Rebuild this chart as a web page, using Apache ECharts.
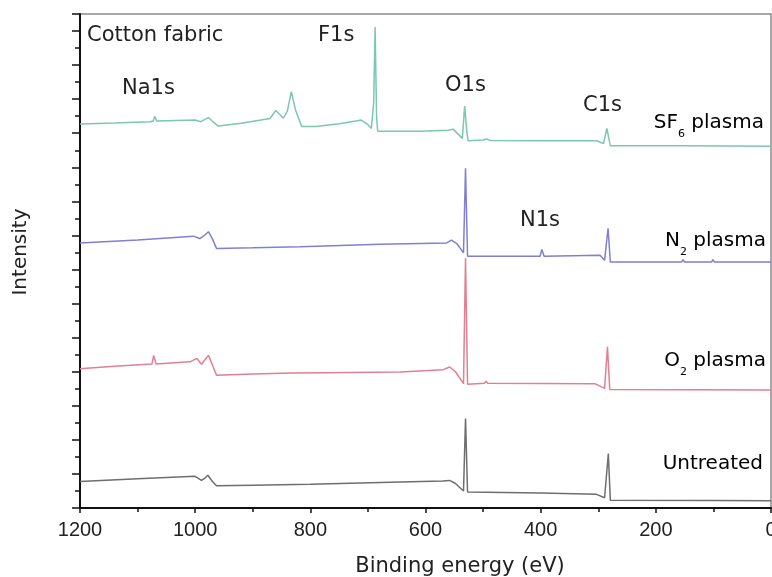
<!DOCTYPE html>
<html>
<head>
<meta charset="utf-8">
<script src="https://cdn.jsdelivr.net/npm/echarts@6/dist/echarts.min.js"></script>
<style>html,body{margin:0;padding:0;background:#fff;}#c{width:772px;height:577px;}</style>
</head>
<body>
<div id="c"></div>
<script>
// Binding energy (eV) vs intensity (arbitrary, offset)
var sf6Plasma = [[1200,11.27],[1140,11.30],[1078,11.34],[1073,11.36],[1070,11.50],[1067,11.36],[1000,11.39],[990,11.34],[984,11.40],[977,11.46],[970,11.35],[960,11.21],[920,11.29],[870,11.43],[865,11.55],[860,11.67],[853,11.55],[847,11.44],[840,11.65],[833,12.22],[826,11.70],[815,11.20],[790,11.20],[750,11.28],[721,11.36],[712,11.39],[700,11.25],[694,11.14],[690,11.9],[687.5,14.12],[685,11.5],[683,11.06],[610,11.06],[560,11.09],[552,11.12],[536,10.85],[532,11.80],[528,11.0],[526,10.78],[500,10.80],[494,10.83],[488,10.79],[400,10.78],[303,10.78],[291,10.70],[285,11.14],[281,10.8],[279,10.63],[150,10.63],[0,10.62]];
var n2Plasma = [[1200,7.78],[1100,7.87],[1003,7.98],[992,7.91],[984,8.00],[977,8.11],[970,7.90],[963,7.62],[900,7.64],[818,7.67],[679,7.74],[563,7.78],[555,7.86],[545,7.75],[534,7.49],[530.5,9.97],[527,7.39],[437,7.39],[401,7.39],[398,7.59],[394,7.39],[297,7.42],[289,7.27],[283,8.21],[279,7.22],[155,7.22],[153,7.29],[150,7.22],[103,7.22],[101,7.29],[98,7.22],[0,7.22]];
var o2Plasma = [[1200,4.09],[1140,4.16],[1075,4.23],[1072,4.48],[1068,4.23],[1009,4.29],[997,4.39],[989,4.22],[983,4.35],[977,4.48],[970,4.2],[963,3.90],[900,3.93],[832,3.96],[829,3.99],[826,3.96],[644,3.99],[569,4.06],[558,4.14],[548,4.0],[534,3.65],[530.5,7.33],[527,3.63],[498,3.66],[495,3.72],[492,3.66],[306,3.65],[289,3.51],[284,4.73],[280,3.48],[0,3.46]];
var untreated = [[1200,0.78],[1100,0.86],[1000,0.93],[989,0.81],[983,0.88],[978,0.96],[970,0.78],[963,0.65],[900,0.67],[800,0.70],[644,0.76],[570,0.79],[558,0.81],[548,0.72],[534,0.50],[530.5,2.63],[527,0.47],[400,0.44],[303,0.40],[289,0.30],[282.5,1.60],[279,0.23],[100,0.22],[0,0.21]];
var xTickLabels = ['0','200','400','600','800','1000','1200'];

var FONT = '"DejaVu Sans", sans-serif';
var chart = echarts.init(document.getElementById('c'));

function lineSeries(name, data, color) {
  return {
    name: name, type: 'line', data: data, showSymbol: false, symbol: 'none',
    lineStyle: { color: color, width: 1.5 }, animation: false, z: 3
  };
}

function txt(text, x, y, align, size, color) {
  return {
    type: 'text', x: x, y: y, z: 10,
    style: {
      text: text, fill: color || '#222', font: (size || 21) + 'px ' + FONT,
      textAlign: align || 'left', align: align || 'left',
      textVerticalAlign: 'middle', verticalAlign: 'middle'
    }
  };
}

function subTxt(pre, sub, post, xRight, yCap) {
  var t = sub ? '{a|' + pre + '}{s|' + sub + '}{a|' + post + '}' : '{a|' + pre + post + '}';
  return {
    type: 'text', x: xRight, y: yCap - 11, z: 10,
    style: {
      text: t, textAlign: 'right', align: 'right',
      textVerticalAlign: 'top', verticalAlign: 'top',
      rich: {
        a: { fontSize: 20, fontFamily: FONT, color: '#3a3a3a', lineHeight: 22, verticalAlign: 'top' },
        s: { fontSize: 11, fontFamily: FONT, color: '#3a3a3a', lineHeight: 11, padding: [16, 0, 0, 0], verticalAlign: 'top' }
      }
    }
  };
}

var option = {
  backgroundColor: '#fff',
  animation: false,
  grid: { left: 80, right: 1, top: 14, bottom: 69, containLabel: false, outerBoundsMode: 'none', show: true, borderColor: '#8a8a8a', borderWidth: 1.5, backgroundColor: 'transparent' },
  xAxis: {
    type: 'value', inverse: true, min: 0, max: 1200, interval: 200, position: 'bottom',
    axisLine: { show: true, onZero: false, lineStyle: { color: '#111', width: 2 } },
    axisTick: { show: true, length: 5, lineStyle: { color: '#111', width: 1.5 } },
    minorTick: { show: true, splitNumber: 2, length: 4, lineStyle: { color: '#111', width: 1.5 } },
    splitLine: { show: false }, minorSplitLine: { show: false },
    axisLabel: {
      fontSize: 20, fontFamily: '"Liberation Sans", Arial, sans-serif', color: '#222', margin: 12,
      formatter: function (v) { var s = String(v); return xTickLabels.indexOf(s) >= 0 ? s : ''; }
    }
  },
  yAxis: {
    type: 'value', min: 0, max: 14.5, interval: 1, position: 'left',
    axisLine: { show: true, onZero: false, lineStyle: { color: '#111', width: 2 } },
    axisTick: { show: true, length: 8, lineStyle: { color: '#111', width: 1.5 } },
    minorTick: { show: true, splitNumber: 2, length: 5, lineStyle: { color: '#111', width: 1.5 } },
    splitLine: { show: false }, minorSplitLine: { show: false },
    axisLabel: { show: false }
  },
  series: [
    lineSeries('SF6 plasma', sf6Plasma, '#7cc6b2'),
    lineSeries('N2 plasma', n2Plasma, '#7f7fd4'),
    lineSeries('O2 plasma', o2Plasma, '#e27f90'),
    lineSeries('Untreated', untreated, '#6e6e6e')
  ],
  graphic: [
    txt('Cotton fabric', 87, 36),
    txt('F1s', 318, 36),
    txt('Na1s', 122, 89),
    txt('O1s', 445, 86),
    txt('C1s', 583, 106),
    txt('N1s', 520, 221),
    subTxt('SF', '6', ' plasma', 764, 124),
    subTxt('N', '2', ' plasma', 766, 242),
    subTxt('O', '2', ' plasma', 766, 362),
    subTxt('Untreated', '', '', 763, 465),
    {
      type: 'text', x: 21, y: 252, rotation: Math.PI / 2, z: 10,
      style: { text: 'Intensity', fill: '#222', font: '20px ' + FONT, textAlign: 'center', align: 'center', textVerticalAlign: 'middle', verticalAlign: 'middle' }
    },
    txt('Binding energy (eV)', 460, 567, 'center', 21)
  ]
};
chart.setOption(option);
</script>
</body>
</html>
